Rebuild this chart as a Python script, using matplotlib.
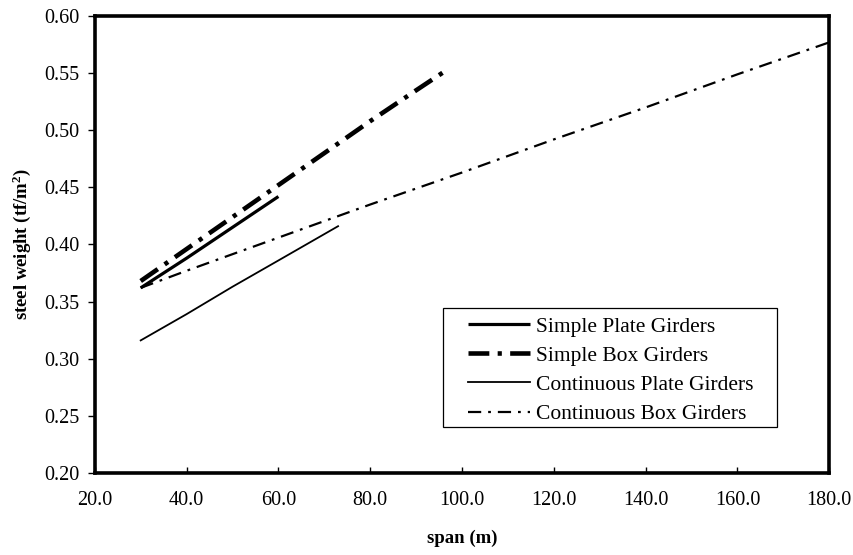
import matplotlib
matplotlib.use("Agg")
import matplotlib.pyplot as plt
from matplotlib.ticker import FormatStrFormatter
from matplotlib.patches import Rectangle

plt.rcParams['font.family'] = ['Liberation Serif', 'DejaVu Serif']
plt.rcParams['lines.scale_dashes'] = False
plt.rcParams['mathtext.fontset'] = 'custom'
plt.rcParams['mathtext.rm'] = 'Liberation Serif'
plt.rcParams['mathtext.bf'] = 'Liberation Serif:bold'

# Data
spg_x = [30, 40, 50, 60]
spg_y = [0.362, 0.388, 0.415, 0.442]

sbg_x = [30, 40, 50, 60, 70, 80, 90, 96]
sbg_y = [0.368, 0.396, 0.424, 0.452, 0.480, 0.508, 0.535, 0.551]

cpg_x = [30, 40, 50, 60, 73]
cpg_y = [0.316, 0.339, 0.363, 0.386, 0.416]

cbg_x = [30, 40, 60, 80, 100, 120, 140, 160, 180]
cbg_y = [0.362, 0.377, 0.406, 0.435, 0.463, 0.492, 0.520, 0.549, 0.577]

labels = ["Simple Plate Girders", "Simple Box Girders",
          "Continuous Plate Girders", "Continuous Box Girders"]

x_ticks = [20, 40, 60, 80, 100, 120, 140, 160, 180]
y_ticks = [0.20, 0.25, 0.30, 0.35, 0.40, 0.45, 0.50, 0.55, 0.60]

fig = plt.figure(figsize=(8.54, 5.55), dpi=100)
ax = fig.add_axes([0.111, 0.148, 0.860, 0.823])

ax.plot(spg_x, spg_y, color='black', lw=2.3, solid_capstyle='butt', label=labels[0])
l2, = ax.plot(sbg_x, sbg_y, color='black', lw=3.3, label=labels[1])
l2.set_dashes((15, 6, 3, 6))
ax.plot(cpg_x, cpg_y, color='black', lw=1.3, label=labels[2])
l4, = ax.plot(cbg_x, cbg_y, color='black', lw=1.6, label=labels[3])
l4.set_dashes((9.5, 5, 2, 5))

ax.set_xlim(20, 180)
ax.set_ylim(0.20, 0.60)
ax.set_xticks(x_ticks)
ax.set_yticks(y_ticks)
ax.xaxis.set_major_formatter(FormatStrFormatter('%.1f'))
ax.yaxis.set_major_formatter(FormatStrFormatter('%.2f'))
ax.tick_params(axis='x', direction='in', length=4, width=1, labelsize=14.5, pad=13)
ax.tick_params(axis='y', direction='out', length=5, width=1, labelsize=14.5, pad=6)

for s in ax.spines.values():
    s.set_linewidth(2.6)

ax.set_xlabel('span (m)', fontsize=13.5, fontweight='bold', labelpad=14)
ax.set_ylabel('steel weight (tf/m$\\mathbf{^2}$)', fontsize=13.5, fontweight='bold', labelpad=8)

# legend frame drawn separately
ax.add_patch(Rectangle((0.4741, 0.1007), 0.9292 - 0.4741, 0.3611 - 0.1007,
                       transform=ax.transAxes, fill=False, edgecolor='black',
                       lw=0.9, zorder=5))
leg = ax.legend(loc='upper left', bbox_to_anchor=(0.508, 0.342), fontsize=15.5,
                frameon=False, handlelength=2.9, handletextpad=0.28, borderpad=0,
                labelspacing=0.42, borderaxespad=0)

fig.savefig('out.png', dpi=100)
